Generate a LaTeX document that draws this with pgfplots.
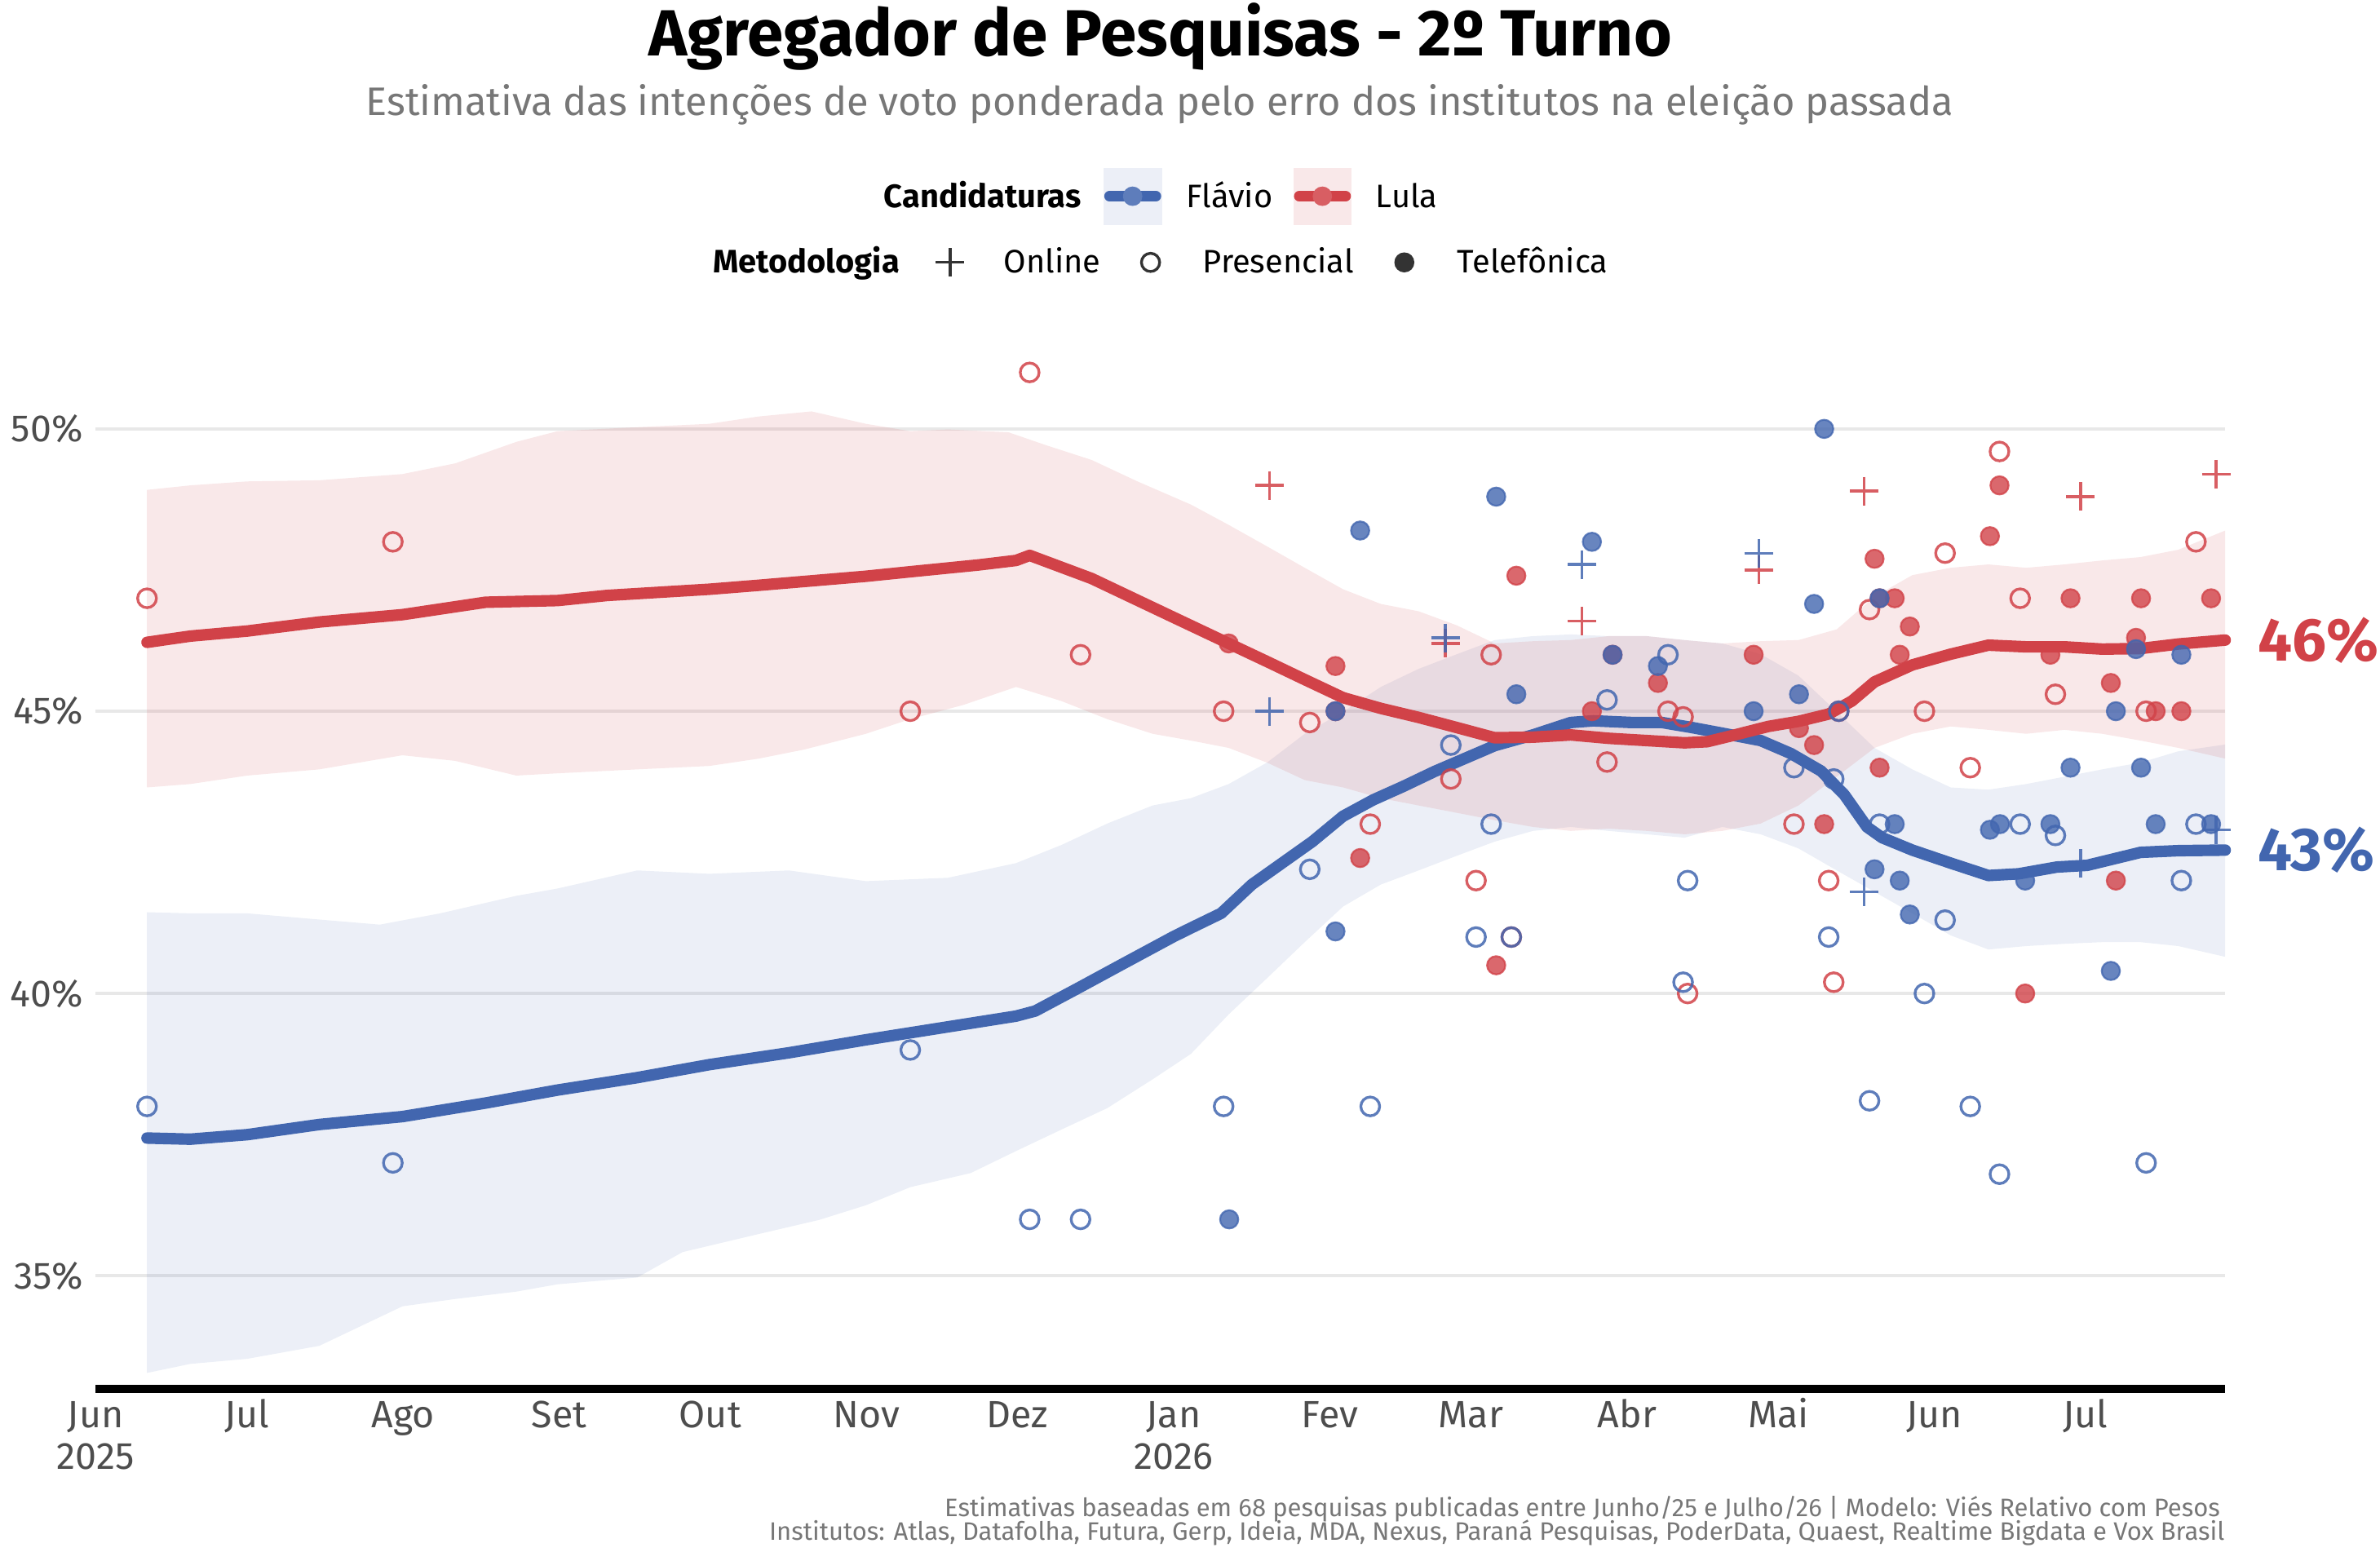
\documentclass[border=0pt]{standalone}
\usepackage{fontspec}
\setmainfont{Fira Sans}
\usepackage{pgfplots}
\pgfplotsset{compat=1.18}
\usepackage{pgfplotstable}
\usepgfplotslibrary{fillbetween}

\definecolor{lulared}{RGB}{209,66,72}
\definecolor{flavblue}{RGB}{66,102,175}
\definecolor{gridc}{RGB}{232,232,232}
\definecolor{tickc}{RGB}{77,77,77}
\definecolor{subc}{RGB}{119,119,119}
\definecolor{legdark}{RGB}{51,51,51}

% days since 2025-06-01
\pgfplotstableread{
d v
10.2 46.22
18.8 46.33
30.1 46.42
44.4 46.58
60.9 46.71
77.4 46.93
91.7 46.96
101.5 47.05
121.8 47.16
131.6 47.23
143.6 47.32
152.9 47.39
161.7 47.47
175.2 47.59
182.7 47.67
185.4 47.76
197.7 47.35
214.0 46.66
224.9 46.20
232.5 45.88
240.0 45.56
247.6 45.24
255.1 45.05
262.6 44.89
270.2 44.71
277.7 44.53
285.3 44.54
292.8 44.58
300.3 44.52
307.9 44.48
315.4 44.44
319.9 44.46
324.5 44.56
332.0 44.73
338.0 44.82
344.0 44.95
348.6 45.18
353.1 45.52
360.6 45.82
368.2 46.01
375.7 46.17
383.2 46.14
390.8 46.14
398.3 46.10
405.9 46.11
413.4 46.19
422.7 46.26
}\lulaline

\pgfplotstableread{
d v
10.2 37.44
18.8 37.42
30.1 37.50
44.4 37.68
60.9 37.82
77.4 38.06
91.7 38.29
107.5 38.51
121.8 38.74
137.6 38.95
152.9 39.18
169.2 39.41
182.7 39.60
186.5 39.69
194.7 40.08
203.8 40.52
214.0 41.01
217.4 41.16
223.4 41.42
229.5 41.93
235.5 42.31
241.5 42.69
247.6 43.14
253.6 43.43
259.6 43.67
265.7 43.93
271.7 44.16
277.7 44.39
285.3 44.58
292.8 44.80
297.3 44.83
304.9 44.80
310.9 44.80
316.9 44.71
322.9 44.61
330.5 44.48
336.5 44.25
342.5 43.94
347.1 43.52
351.6 42.95
354.6 42.76
360.6 42.54
368.2 42.31
375.7 42.09
381.7 42.12
389.3 42.24
395.3 42.27
401.3 42.40
405.9 42.50
413.4 42.53
422.7 42.54
}\flavline

\pgfplotstableread{
d v
10.2 48.92
18.8 49.00
30.1 49.07
44.4 49.09
60.9 49.20
71.4 49.39
83.5 49.77
91.7 49.96
107.5 50.03
121.8 50.09
131.6 50.22
142.1 50.31
152.9 50.09
161.7 49.96
169.2 49.99
181.2 49.94
188.7 49.71
197.7 49.45
206.8 49.07
217.4 48.66
224.9 48.30
232.5 47.92
240.0 47.54
247.6 47.16
255.1 46.90
262.6 46.77
270.2 46.52
277.7 46.20
285.3 46.24
292.8 46.26
300.3 46.33
307.9 46.33
315.4 46.26
322.9 46.20
330.5 46.24
338.0 46.26
345.6 46.45
353.1 47.03
360.6 47.41
368.2 47.54
375.7 47.60
383.2 47.54
390.8 47.60
398.3 47.67
405.9 47.73
413.4 47.86
422.7 48.20
}\rbu

\pgfplotstableread{
d v
10.2 43.65
18.8 43.71
30.1 43.86
44.4 43.97
60.9 44.22
71.4 44.12
83.5 43.86
91.7 43.90
107.5 43.97
121.8 44.03
131.6 44.16
140.6 44.32
152.9 44.60
161.7 44.86
172.2 45.11
182.7 45.43
191.7 45.18
200.8 44.86
209.8 44.60
217.4 44.48
224.9 44.35
232.5 44.09
240.0 43.78
247.6 43.65
255.1 43.46
262.6 43.33
270.2 43.20
277.7 43.07
285.3 42.95
292.8 42.88
300.3 42.92
307.9 42.88
315.4 42.82
322.9 42.88
330.5 43.01
338.0 43.33
345.6 43.84
353.1 44.35
360.6 44.60
368.2 44.73
375.7 44.67
383.2 44.60
390.8 44.67
398.3 44.60
405.9 44.48
413.4 44.35
422.7 44.16
}\rbl

\pgfplotstableread{
d v
10.2 41.44
18.8 41.42
30.1 41.42
44.4 41.31
56.4 41.22
68.4 41.42
83.5 41.73
91.7 41.86
107.5 42.18
121.8 42.12
137.6 42.18
152.9 41.99
169.2 42.05
182.7 42.31
191.7 42.63
200.8 43.01
209.8 43.33
217.4 43.46
224.9 43.71
232.5 44.09
240.0 44.60
247.6 44.99
255.1 45.43
262.6 45.75
270.2 46.01
277.7 46.26
285.3 46.33
292.8 46.36
300.3 46.33
307.9 46.33
315.4 46.26
322.9 46.20
330.5 46.01
338.0 45.63
345.6 44.99
353.1 44.35
360.6 43.97
368.2 43.65
375.7 43.61
383.2 43.71
390.8 43.84
398.3 43.97
405.9 44.09
413.4 44.29
422.7 44.41
}\bbu

\pgfplotstableread{
d v
10.2 33.28
18.8 33.44
30.1 33.53
44.4 33.76
60.9 34.46
71.4 34.59
83.5 34.72
91.7 34.85
107.5 34.97
116.5 35.42
131.6 35.74
143.6 35.99
152.9 36.25
161.7 36.57
173.7 36.82
182.7 37.21
191.7 37.59
200.8 37.97
209.8 38.48
217.4 38.93
224.9 39.63
232.5 40.27
240.0 40.91
247.6 41.54
255.1 41.93
262.6 42.18
270.2 42.44
277.7 42.69
285.3 42.88
292.8 42.95
300.3 42.88
307.9 42.82
315.4 42.76
322.9 42.95
330.5 42.82
338.0 42.57
345.6 42.18
353.1 41.80
360.6 41.42
368.2 41.03
375.7 40.78
383.2 40.84
390.8 40.88
398.3 40.91
405.9 40.91
413.4 40.84
422.7 40.65
}\bbl

% polls: red (Lula)
\pgfplotstableread{
d v
10.2 47.0
59.0 48.0
161.7 45.0
185.4 51.0
195.5 46.0
223.9 45.0
241.0 44.8
253.0 43.0
269.0 43.8
274.0 42.0
277.0 46.0
281.0 41.0
300.0 44.1
312.1 45.0
315.1 44.9
316.0 40.0
337.1 43.0
344.0 42.0
345.0 40.2
346.0 45.0
352.1 46.8
363.0 45.0
367.1 47.8
372.1 44.0
377.9 49.6
382.0 47.0
389.0 45.3
407.0 45.0
416.9 48.0
}\ropen

\pgfplotstableread{
d v
224.9 46.2
246.1 45.8
246.1 45.0
251.0 42.4
278.0 40.5
282.0 47.4
297.0 45.0
301.1 46.0
310.1 45.5
329.1 46.0
338.1 44.7
341.1 44.4
343.1 43.0
353.1 47.7
354.1 44.0
354.1 47.0
357.1 47.0
358.1 46.0
360.1 46.5
376.0 48.1
377.9 49.0
383.0 40.0
388.0 46.0
392.0 47.0
400.0 45.5
401.0 42.0
405.0 46.3
406.0 47.0
408.9 45.0
414.0 45.0
419.9 47.0
}\rfill

\pgfplotstableread{
d v
233.0 49.0
267.9 46.2
295.0 46.6
330.1 47.5
351.0 48.9
394.0 48.8
420.9 49.2
}\rplus

% polls: blue (Flavio)
\pgfplotstableread{
d v
10.2 38.0
59.0 37.0
161.7 39.0
185.4 36.0
195.5 36.0
223.9 38.0
241.0 42.2
253.0 38.0
269.0 44.4
274.0 41.0
277.0 43.0
281.0 41.0
300.0 45.2
312.1 46.0
315.1 40.2
316.0 42.0
337.1 44.0
344.0 41.0
345.0 43.8
346.0 45.0
352.1 38.1
354.1 43.0
363.0 40.0
367.1 41.3
372.1 38.0
377.9 36.8
382.0 43.0
389.0 42.8
407.0 37.0
414.0 42.0
416.9 43.0
}\bopen

\pgfplotstableread{
d v
225.0 36.0
246.1 41.1
246.1 45.0
251.0 48.2
278.0 48.8
282.0 45.3
297.0 48.0
301.1 46.0
310.1 45.8
329.1 45.0
338.1 45.3
341.1 46.9
343.1 50.0
353.1 42.2
354.1 47.0
357.1 43.0
358.1 42.0
360.1 41.4
376.0 42.9
378.0 43.0
383.0 42.0
388.0 43.0
392.0 44.0
400.0 40.4
401.0 45.0
405.0 46.1
406.0 44.0
408.9 43.0
414.0 46.0
419.9 43.0
}\bfill

\pgfplotstableread{
d v
233.0 45.0
267.9 46.3
295.0 47.6
330.1 47.8
351.0 41.8
394.0 42.3
420.9 42.9
}\bplus

\begin{document}
\begin{tikzpicture}
\path (0,0) rectangle (784pt,514pt);
\begin{axis}[
  at={(31.5pt,56.5pt)}, anchor=south west,
  width=701.5pt, height=344.1pt, scale only axis,
  xmin=0, xmax=422.7, ymin=33, ymax=51.5,
  clip=false,
  axis x line*=bottom, axis y line*=left,
  x axis line style={line width=2.7pt, black, -},
  y axis line style={draw=none},
  major tick length=0pt,
  ymajorgrids, grid style={gridc, line width=1pt},
  xtick={0,30,61,92,122,153,183,214,245,273,304,334,365,395},
  xticklabels={Jun,Jul,Ago,Set,Out,Nov,Dez,Jan,Fev,Mar,Abr,Mai,Jun,Jul},
  extra x ticks={0,214}, extra x tick labels={2025,2026},
  extra x tick style={xticklabel style={yshift=-13.9pt}},
  ytick={35,40,45,50},
  yticklabel={\pgfmathprintnumber{\tick}\%},
  /pgf/number format/assume math mode=true,
  xticklabel style={font=\fontsize{12.5}{14}\selectfont, text=tickc, anchor=base, inner sep=0pt, yshift=-12.7pt},
  yticklabel style={font=\fontsize{12.5}{14}\selectfont, text=tickc, anchor=east, inner sep=0pt, xshift=-4pt},
]
% bands
\addplot[draw=none, name path=bu] table[x=d,y=v]{\bbu};
\addplot[draw=none, name path=bl] table[x=d,y=v]{\bbl};
\addplot[fill=flavblue, fill opacity=0.10, draw=none] fill between[of=bu and bl];
\addplot[draw=none, name path=ru] table[x=d,y=v]{\rbu};
\addplot[draw=none, name path=rl] table[x=d,y=v]{\rbl};
\addplot[fill=lulared, fill opacity=0.12, draw=none] fill between[of=ru and rl];
% polls Lula
\addplot[only marks, mark=o, mark size=3.1pt, mark options={draw=lulared, line width=0.9pt, opacity=0.85}] table[x=d,y=v]{\ropen};
\addplot[only marks, mark=*, mark size=3.0pt, mark options={draw=lulared, fill=lulared, line width=0.6pt, opacity=0.8}] table[x=d,y=v]{\rfill};
\addplot[only marks, mark=+, mark size=4.7pt, mark options={draw=lulared, line width=0.9pt, opacity=0.85}] table[x=d,y=v]{\rplus};
% polls Flavio
\addplot[only marks, mark=o, mark size=3.1pt, mark options={draw=flavblue, line width=0.9pt, opacity=0.85}] table[x=d,y=v]{\bopen};
\addplot[only marks, mark=*, mark size=3.0pt, mark options={draw=flavblue, fill=flavblue, line width=0.6pt, opacity=0.8}] table[x=d,y=v]{\bfill};
\addplot[only marks, mark=+, mark size=4.7pt, mark options={draw=flavblue, line width=0.9pt, opacity=0.85}] table[x=d,y=v]{\bplus};
% trend lines
\addplot[flavblue, line width=3.8pt, line cap=round, line join=round, no marks] table[x=d,y=v]{\flavline};
\addplot[lulared, line width=3.8pt, line cap=round, line join=round, no marks] table[x=d,y=v]{\lulaline};
% end labels
\node[anchor=west, inner sep=0pt, xshift=10.5pt, text=lulared, font=\bfseries\fontsize{20}{24}\selectfont] at (axis cs:422.7,46.26) {46\%};
\node[anchor=west, inner sep=0pt, xshift=10.5pt, text=flavblue, font=\bfseries\fontsize{20}{24}\selectfont] at (axis cs:422.7,42.54) {43\%};
\end{axis}

% title and subtitle
\node[anchor=base, inner sep=0pt, font=\bfseries\fontsize{21.5}{25}\selectfont] at (382.25pt,495.6pt) {Agregador de Pesquisas - 2º Turno};
\node[anchor=base, inner sep=0pt, text=subc, font=\fontsize{13.1}{16}\selectfont] at (382pt,475.9pt) {Estimativa das intenções de voto ponderada pelo erro dos institutos na eleição passada};

% legend row 1
\node[anchor=base east, inner sep=0pt, font=\bfseries\fontsize{10.7}{13}\selectfont] at (356.3pt,445.5pt) {Candidaturas};
\fill[flavblue, fill opacity=0.1] (363.5pt,439.85pt) rectangle (382.75pt,458.65pt);
\draw[flavblue, line width=3.5pt, line cap=round] (365.5pt,449.35pt) -- (380.75pt,449.35pt);
\fill[flavblue!85!white] (373.1pt,449.35pt) circle (3.2pt);
\node[anchor=base west, inner sep=0pt, font=\fontsize{10.7}{13}\selectfont] at (390.6pt,445.5pt) {Flávio};
\fill[lulared, fill opacity=0.12] (426pt,439.85pt) rectangle (445.25pt,458.65pt);
\draw[lulared, line width=3.5pt, line cap=round] (428pt,449.35pt) -- (443.25pt,449.35pt);
\fill[lulared!85!white] (435.6pt,449.35pt) circle (3.2pt);
\node[anchor=base west, inner sep=0pt, font=\fontsize{10.7}{13}\selectfont] at (453pt,445.5pt) {Lula};

% legend row 2
\node[anchor=base east, inner sep=0pt, font=\bfseries\fontsize{10.7}{13}\selectfont] at (296.5pt,424pt) {Metodologia};
\draw[legdark, line width=0.9pt] (308.3pt,427.55pt) -- (317.7pt,427.55pt) (313pt,422.85pt) -- (313pt,432.25pt);
\node[anchor=base west, inner sep=0pt, font=\fontsize{10.7}{13}\selectfont] at (330.5pt,424pt) {Online};
\draw[legdark, line width=0.9pt] (379pt,427.55pt) circle (3pt);
\node[anchor=base west, inner sep=0pt, font=\fontsize{10.7}{13}\selectfont] at (396pt,424pt) {Presencial};
\fill[legdark] (462.6pt,427.55pt) circle (3.3pt);
\node[anchor=base west, inner sep=0pt, font=\fontsize{10.7}{13}\selectfont] at (479.9pt,424pt) {Telefônica};

% caption
\node[anchor=base east, inner sep=0pt, text=subc, font=\fontsize{8.33}{10}\selectfont] at (731.5pt,14.35pt) {Estimativas baseadas em 68 pesquisas publicadas entre Junho/25 e Julho/26 | Modelo: Viés Relativo com Pesos};
\node[anchor=base east, inner sep=0pt, text=subc, font=\fontsize{8.33}{10}\selectfont] at (733pt,6.6pt) {Institutos: Atlas, Datafolha, Futura, Gerp, Ideia, MDA, Nexus, Paraná Pesquisas, PoderData, Quaest, Realtime Bigdata e Vox Brasil};
\end{tikzpicture}
\end{document}
